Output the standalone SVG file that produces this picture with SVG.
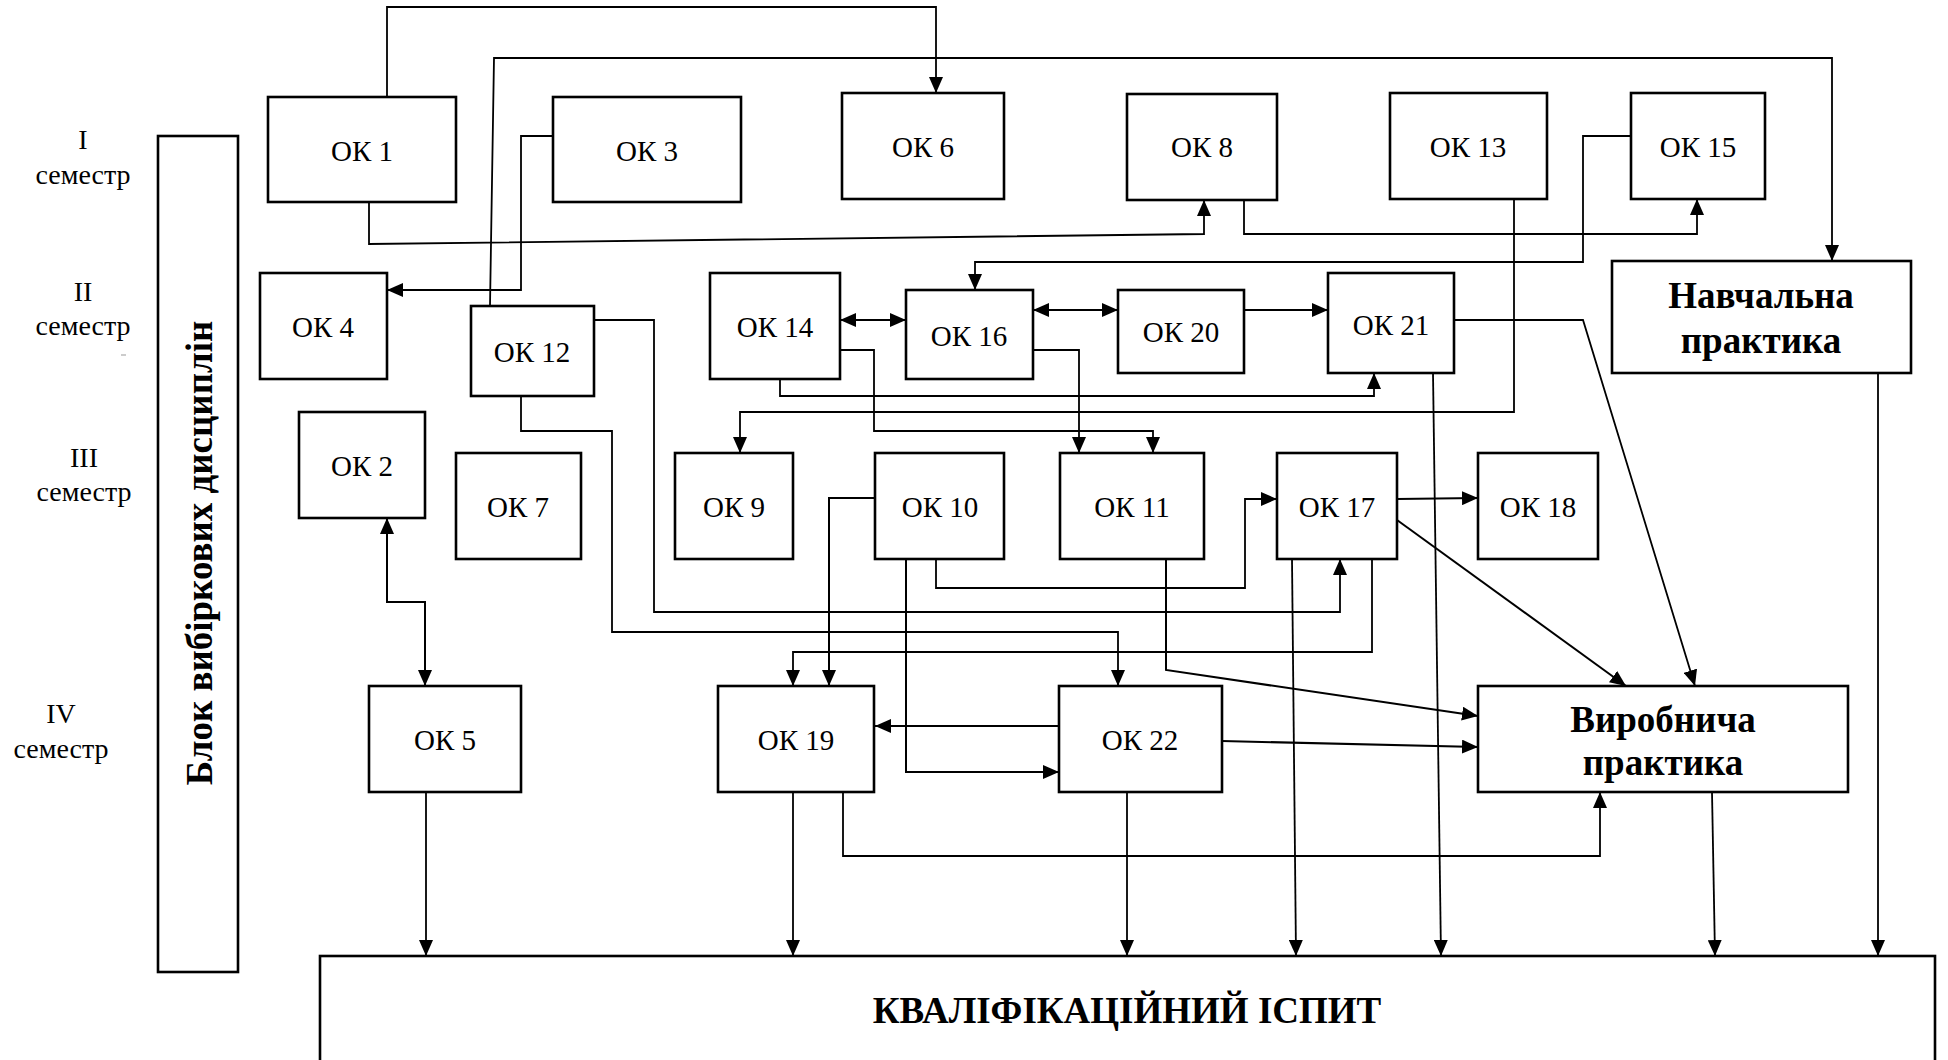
<svg xmlns="http://www.w3.org/2000/svg" width="1948" height="1060" viewBox="0 0 1948 1060">
<defs>
<style>
.box{fill:#fff;stroke:#000;stroke-width:2.6}
.lbl{font-family:"Liberation Serif","Times New Roman",serif;font-size:29px;fill:#000;text-anchor:middle}
.sem{font-family:"Liberation Serif","Times New Roman",serif;font-size:28px;fill:#000;text-anchor:middle}
.bold{font-family:"Liberation Serif","Times New Roman",serif;font-size:37px;font-weight:bold;fill:#000;text-anchor:middle}
.ln{fill:none;stroke:#000;stroke-width:1.8;marker-end:url(#ah)}
.pl{fill:none;stroke:#000;stroke-width:1.8}
.bi{fill:none;stroke:#000;stroke-width:2;marker-end:url(#ah);marker-start:url(#ah)}
</style>
<marker id="ah" markerUnits="userSpaceOnUse" markerWidth="16" markerHeight="14" viewBox="0 0 16 14" refX="16" refY="7" orient="auto-start-reverse">
<path d="M0,0 L16,7 L0,14 z" fill="#000"/>
</marker>
</defs>
<rect width="1948" height="1060" fill="#fff"/>

<g id="semesters">
<text class="sem" x="83" y="149">I</text>
<text class="sem" x="83" y="184">семестр</text>
<text class="sem" x="83" y="301">II</text>
<text class="sem" x="83" y="335">семестр</text>
<line x1="121" y1="355" x2="126" y2="355" stroke="#999" stroke-width="1"/>
<text class="sem" x="84" y="467">III</text>
<text class="sem" x="84" y="501">семестр</text>
<text class="sem" x="61" y="723">IV</text>
<text class="sem" x="61" y="758">семестр</text>
</g>

<g id="connectors">
<path class="ln" d="M387,97 V7 H936 V93"/>
<path class="ln" d="M490,306 L494,58 H1832 V261"/>
<path class="ln" d="M553,136 H521 V290 H387"/>
<path class="ln" d="M369,202 V244 L1204,234 V200"/>
<path class="ln" d="M1244,200 V234 H1697 V199"/>
<path class="ln" d="M1631,136 H1583 V262 H975 V290"/>
<path class="bi" d="M840,320 H906"/>
<path class="bi" d="M1033,310 H1118"/>
<path class="ln" style="stroke-width:2" d="M1244,310 H1328"/>
<path class="ln" d="M840,350 H874 V431 H1153 V453"/>
<path class="ln" d="M1033,350 H1079 V453"/>
<path class="ln" d="M780,379 V396 H1374 V373"/>
<path class="ln" d="M1514,199 V412 H740 V453"/>
<path class="ln" d="M1454,320 H1583 L1695,686"/>
<path class="ln" d="M1433,373 L1441,956"/>
<path class="ln" d="M1878,373 V956"/>
<path class="ln" d="M594,320 H654 V612 H1340 V559"/>
<path class="ln" d="M521,396 V431 H612 V632 H1118 V686"/>
<path class="bi" d="M387,518 V602 H425 V686"/>
<path class="ln" style="stroke-width:2" d="M875,498 H829 V686"/>
<path class="ln" d="M936,559 V588 H1245 V499 H1277"/>
<path class="ln" style="stroke-width:2" d="M906,559 V772 H1059"/>
<path class="ln" d="M1372,559 V652 H793 V686"/>
<path class="ln" style="stroke-width:2" d="M1166,559 V670 L1478,716"/>
<path class="ln" style="stroke-width:2.2" d="M1059,726 H875"/>
<path class="ln" style="stroke-width:2" d="M1222,741 L1478,747"/>
<path class="ln" style="stroke-width:2.2" d="M1397,499 L1478,498"/>
<path class="ln" style="stroke-width:2" d="M1397,520 L1626,686"/>
<path class="ln" d="M1292,559 L1296,956"/>
<path class="ln" d="M1712,792 L1715,956"/>
<path class="ln" d="M843,792 V856 H1600 V792"/>
<path class="ln" d="M793,792 V956"/>
<path class="ln" d="M426,792 V956"/>
<path class="ln" d="M1127,792 V956"/>
</g>

<g id="block">
<rect class="box" x="158" y="136" width="80" height="836"/>
<text class="bold" transform="translate(212,553) rotate(-90)">Блок вибіркових дисциплін</text>
</g>

<g id="ok1"><rect class="box" x="268" y="97" width="188" height="105"/><text class="lbl" x="362" y="161">ОК 1</text></g>
<g id="ok3"><rect class="box" x="553" y="97" width="188" height="105"/><text class="lbl" x="647" y="161">ОК 3</text></g>
<g id="ok6"><rect class="box" x="842" y="93" width="162" height="106"/><text class="lbl" x="923" y="157">ОК 6</text></g>
<g id="ok8"><rect class="box" x="1127" y="94" width="150" height="106"/><text class="lbl" x="1202" y="157">ОК 8</text></g>
<g id="ok13"><rect class="box" x="1390" y="93" width="157" height="106"/><text class="lbl" x="1468" y="157">ОК 13</text></g>
<g id="ok15"><rect class="box" x="1631" y="93" width="134" height="106"/><text class="lbl" x="1698" y="157">ОК 15</text></g>
<g id="nav"><rect class="box" x="1612" y="261" width="299" height="112"/><text class="bold" x="1761" y="308">Навчальна</text><text class="bold" x="1761" y="353">практика</text></g>

<g id="ok4"><rect class="box" x="260" y="273" width="127" height="106"/><text class="lbl" x="323" y="337">ОК 4</text></g>
<g id="ok12"><rect class="box" x="471" y="306" width="123" height="90"/><text class="lbl" x="532" y="362">ОК 12</text></g>
<g id="ok14"><rect class="box" x="710" y="273" width="130" height="106"/><text class="lbl" x="775" y="337">ОК 14</text></g>
<g id="ok16"><rect class="box" x="906" y="290" width="127" height="89"/><text class="lbl" x="969" y="346">ОК 16</text></g>
<g id="ok20"><rect class="box" x="1118" y="290" width="126" height="83"/><text class="lbl" x="1181" y="342">ОК 20</text></g>
<g id="ok21"><rect class="box" x="1328" y="273" width="126" height="100"/><text class="lbl" x="1391" y="335">ОК 21</text></g>

<g id="ok2"><rect class="box" x="299" y="412" width="126" height="106"/><text class="lbl" x="362" y="476">ОК 2</text></g>
<g id="ok7"><rect class="box" x="456" y="453" width="125" height="106"/><text class="lbl" x="518" y="517">ОК 7</text></g>
<g id="ok9"><rect class="box" x="675" y="453" width="118" height="106"/><text class="lbl" x="734" y="517">ОК 9</text></g>
<g id="ok10"><rect class="box" x="875" y="453" width="129" height="106"/><text class="lbl" x="940" y="517">ОК 10</text></g>
<g id="ok11"><rect class="box" x="1060" y="453" width="144" height="106"/><text class="lbl" x="1132" y="517">ОК 11</text></g>
<g id="ok17"><rect class="box" x="1277" y="453" width="120" height="106"/><text class="lbl" x="1337" y="517">ОК 17</text></g>
<g id="ok18"><rect class="box" x="1478" y="453" width="120" height="106"/><text class="lbl" x="1538" y="517">ОК 18</text></g>

<g id="ok5"><rect class="box" x="369" y="686" width="152" height="106"/><text class="lbl" x="445" y="750">ОК 5</text></g>
<g id="ok19"><rect class="box" x="718" y="686" width="156" height="106"/><text class="lbl" x="796" y="750">ОК 19</text></g>
<g id="ok22"><rect class="box" x="1059" y="686" width="163" height="106"/><text class="lbl" x="1140" y="750">ОК 22</text></g>
<g id="vyr"><rect class="box" x="1478" y="686" width="370" height="106"/><text class="bold" x="1663" y="732">Виробнича</text><text class="bold" x="1663" y="775">практика</text></g>

<g id="exam"><rect class="box" x="320" y="956" width="1615" height="140"/><text class="bold" x="1127" y="1023">КВАЛІФІКАЦІЙНИЙ ІСПИТ</text></g>
</svg>
